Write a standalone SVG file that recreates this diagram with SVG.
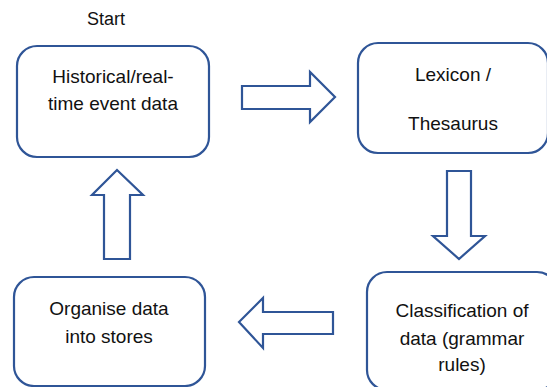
<svg xmlns="http://www.w3.org/2000/svg" width="547" height="387" viewBox="0 0 547 387">
  <style>
    .box { fill: #ffffff; stroke: #2f5597; stroke-width: 2.2; }
    .arrow { fill: #ffffff; stroke: #2f5597; stroke-width: 2.2; stroke-linejoin: miter; }
    text { font-family: "Liberation Sans", Arial, sans-serif; font-size: 19px; fill: #111111; text-anchor: middle; }
  </style>
  <rect width="547" height="387" fill="#ffffff"/>

  <text id="start-label" x="106" y="25" style="font-size:18px">Start</text>

  <g id="node-event-data">
    <rect class="box" x="17" y="46" width="192" height="111" rx="20"/>
    <text x="113" y="83">Historical/real-</text>
    <text x="113" y="110">time event data</text>
  </g>

  <g id="node-lexicon">
    <rect class="box" x="358" y="43" width="190" height="110" rx="20"/>
    <text x="453" y="81">Lexicon /</text>
    <text x="453" y="130">Thesaurus</text>
  </g>

  <g id="node-classification">
    <rect class="box" x="367" y="272" width="190" height="118" rx="20"/>
    <text x="462" y="317">Classification of</text>
    <text x="462" y="345">data (grammar</text>
    <text x="462" y="371">rules)</text>
  </g>

  <g id="node-organise">
    <rect class="box" x="14" y="277" width="191" height="109" rx="20"/>
    <text x="109" y="315">Organise data</text>
    <text x="109" y="343">into stores</text>
  </g>

  <g id="connectors">
    <!-- event data to lexicon -->
    <polygon class="arrow" points="242,86 310,86 310,72 335,97 310,122 310,109 242,109"/>
    <!-- lexicon to classification -->
    <polygon class="arrow" points="447,171 471,171 471,236 485,236 459,259 433,236 447,236"/>
    <!-- classification to organise -->
    <polygon class="arrow" points="333,312 263,312 263,298 239,322 263,348 263,334 333,334"/>
    <!-- organise back to event data -->
    <polygon class="arrow" points="104,259 104,195 92,195 117,170 143,195 130,195 130,259"/>
  </g>
</svg>
